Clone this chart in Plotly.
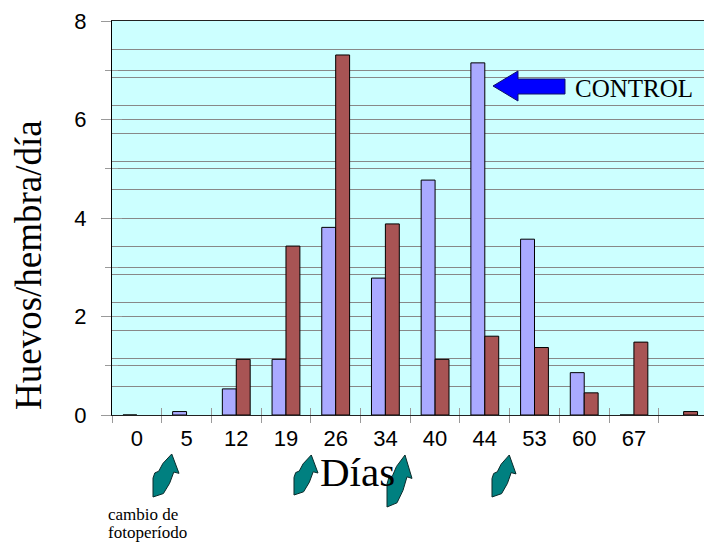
import plotly.graph_objects as go

# Egg-laying rate per sampling day
dias = ["0", "5", "12", "19", "26", "34", "40", "44", "53", "60", "67", " "]
control = [0, 0.07, 0.53, 1.13, 3.81, 2.78, 4.77, 7.15, 3.57, 0.86, 0, None]
tratamiento = [None, None, 1.13, 3.43, 7.31, 3.88, 1.13, 1.60, 1.37, 0.45, 1.48, 0.07]

y_ticks = [0, 2, 4, 6, 8]

W, H = 704, 544
L, R, T, B = 112, 0, 21, 129
PW, PH = W - L - R, H - T - B


def px(x):
    return (x - L) / PW


def py(y):
    return (H - B - y) / PH


def path(points):
    return "M " + " L ".join(f"{px(x):.5f},{py(y):.5f}" for x, y in points) + " Z"


# curved block arrow outline (unit box, y downward)
ARROW = [(0.72, 0.0), (1.0, 0.45), (0.80, 0.42), (0.64, 0.68), (0.40, 0.92),
         (0.0, 1.0), (0.0, 0.56), (0.07, 0.44), (0.22, 0.40), (0.38, 0.22)]


def block_arrow(x0, y0, x1, y1):
    return path([(x0 + u * (x1 - x0), y0 + v * (y1 - y0)) for u, v in ARROW])


fig = go.Figure()
fig.add_trace(go.Bar(x=dias, y=control, name="Control",
                     marker=dict(color="#AAAAFF", line=dict(color="#000000", width=1))))
fig.add_trace(go.Bar(x=dias, y=tratamiento, name="Tratamiento",
                     marker=dict(color="#A85454", line=dict(color="#000000", width=1))))
# helpers so the overlay axes get drawn
fig.add_trace(go.Scatter(x=[0], y=[0], xaxis="x2", yaxis="y2", mode="markers",
                         marker=dict(opacity=0), hoverinfo="skip", showlegend=False))
fig.add_trace(go.Scatter(x=[0], y=[0], xaxis="x2", yaxis="y3", mode="markers",
                         marker=dict(opacity=0), hoverinfo="skip", showlegend=False))

xr = [-0.5, 11.41]
tick_col = "#9a9a9a"
grid_col = "#888888"

fig.update_layout(
    width=W, height=H,
    margin=dict(l=L, r=R, t=T, b=B, pad=0),
    paper_bgcolor="white", plot_bgcolor="#CCFFFF",
    barmode="group", bargap=0.44, bargroupgap=0,
    showlegend=False,
    font=dict(family="Liberation Sans, Arial, sans-serif", color="black"),
    xaxis=dict(type="category", range=xr, tickson="boundaries",
               ticks="outside", ticklen=7, tickcolor=tick_col, tickwidth=1,
               showline=True, linecolor="#222222", linewidth=1, mirror=True,
               showgrid=False, tickfont=dict(size=22), ticklabelstandoff=4),
    xaxis2=dict(overlaying="x", anchor="y", range=xr, showgrid=False,
                tickvals=[i - 0.5 for i in range(len(dias) + 1)],
                ticks="inside", ticklen=7, tickcolor=tick_col,
                showticklabels=False, zeroline=False, showline=False),
    yaxis=dict(range=[0, 8], tickvals=y_ticks, ticks="outside", ticklen=10,
               tickcolor=tick_col, showline=True, linecolor="black", linewidth=1,
               showgrid=True, gridcolor=grid_col, gridwidth=1, zeroline=False,
               minor=dict(dtick=1, ticks="outside", ticklen=6, tickcolor=tick_col,
                          showgrid=True, gridcolor=grid_col, gridwidth=1),
               tickfont=dict(size=22), ticklabelstandoff=10),
    yaxis2=dict(overlaying="y", anchor="x", range=[0, 14], dtick=1,
                showgrid=True, gridcolor=grid_col, gridwidth=1,
                showticklabels=False, ticks="", zeroline=False, showline=False),
    yaxis3=dict(overlaying="y", anchor="x", side="left", range=[0, 8],
                tickvals=y_ticks, ticks="inside", ticklen=10, tickcolor=tick_col,
                minor=dict(dtick=1, ticks="inside", ticklen=6, tickcolor=tick_col),
                showgrid=False, showticklabels=False, zeroline=False, showline=False),
)

serif = "Liberation Serif, Times New Roman, serif"
fig.add_annotation(text="Huevos/hembra/día", xref="paper", yref="paper",
                   x=px(28), y=py(265), textangle=-90, showarrow=False,
                   xanchor="center", yanchor="middle",
                   font=dict(family=serif, size=37, color="black"))
fig.add_annotation(text="Días", xref="paper", yref="paper",
                   x=px(357), y=py(472), showarrow=False,
                   xanchor="center", yanchor="middle",
                   font=dict(family=serif, size=41, color="black"))
fig.add_annotation(text="CONTROL", xref="paper", yref="paper",
                   x=px(634), y=py(88), showarrow=False,
                   xanchor="center", yanchor="middle",
                   font=dict(family=serif, size=25, color="black"))
fig.add_annotation(text="cambio de", xref="paper", yref="paper",
                   x=px(106), y=py(514), showarrow=False,
                   xanchor="left", yanchor="middle",
                   font=dict(family=serif, size=17, color="black"))
fig.add_annotation(text="fotoperíodo", xref="paper", yref="paper",
                   x=px(106), y=py(532), showarrow=False,
                   xanchor="left", yanchor="middle",
                   font=dict(family=serif, size=17, color="black"))

# blue arrow pointing at the control peak
fig.add_shape(type="path", xref="paper", yref="paper", layer="above",
              path=path([(493, 86), (518, 71), (518, 79), (565, 79),
                         (565, 94), (518, 94), (518, 101)]),
              fillcolor="#0000FF", line=dict(color="#10106A", width=1))

# photoperiod change markers
for box in [(153, 454, 179, 497), (294, 455, 318, 495),
            (387, 455, 412, 507), (492, 455, 516, 497)]:
    fig.add_shape(type="path", xref="paper", yref="paper", layer="above",
                  path=block_arrow(*box), fillcolor="#008080",
                  line=dict(color="#0a2a2a", width=1))

fig.write_html("out.html")
